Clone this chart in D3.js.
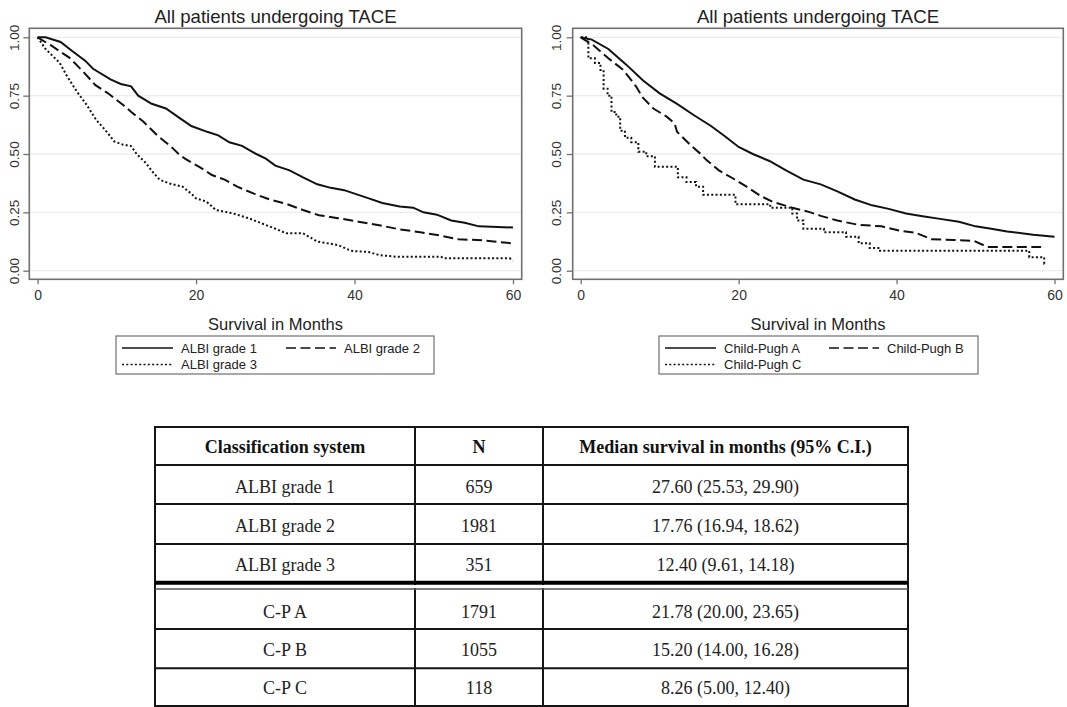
<!DOCTYPE html>
<html><head><meta charset="utf-8">
<script src="https://cdn.jsdelivr.net/npm/d3@7"></script>
<style>body{margin:0;background:#fff}svg{display:block}</style>
</head><body>
<svg id="c" width="1067" height="707"></svg>
<script>
// ---------- data ----------
const monthTicks = [0, 20, 40, 60];
const survTicks = [0, 0.25, 0.5, 0.75, 1];
const chartTitle = "All patients undergoing TACE";
const xTitle = "Survival in Months";

const albiLabels = ["ALBI grade 1", "ALBI grade 2", "ALBI grade 3"];
const cpLabels = ["Child-Pugh A", "Child-Pugh B", "Child-Pugh C"];

const albi1 = [[0,1],[1,1],[2.9,0.98],[4.4,0.94],[6,0.9],[7,0.865],[9.2,0.82],[10.5,0.8],[11.8,0.79],[12.7,0.75],[14.4,0.715],[16.2,0.695],[17.9,0.655],[19.4,0.62],[21.4,0.595],[22.8,0.58],[24.2,0.55],[25.8,0.535],[27.6,0.5],[28.8,0.48],[30,0.45],[31.8,0.43],[33.5,0.4],[35.3,0.37],[37,0.355],[38.7,0.345],[40,0.33],[41.8,0.31],[43.5,0.29],[45.7,0.275],[47.4,0.27],[48.7,0.25],[50.4,0.24],[52.2,0.215],[53.9,0.205],[55.7,0.19],[60,0.185]];
const albi2 = [[0,1],[1.7,0.965],[4,0.913],[5.7,0.855],[7.3,0.795],[8.9,0.76],[10.8,0.71],[12,0.675],[13.3,0.64],[15.1,0.58],[16.9,0.53],[17.8,0.5],[18.6,0.48],[20.4,0.445],[22,0.41],[23.6,0.39],[25.2,0.36],[27.3,0.33],[29.3,0.305],[31.5,0.285],[33.5,0.26],[35.5,0.238],[37.9,0.225],[40.5,0.21],[43.1,0.195],[45.7,0.177],[48.3,0.165],[50.9,0.15],[53.1,0.135],[56.1,0.13],[60,0.117]];
const albi3 = [[0,1],[1,0.95],[1.6,0.93],[2.8,0.89],[3.6,0.84],[4.9,0.77],[6.2,0.71],[7.4,0.646],[8.7,0.596],[9.7,0.553],[10.8,0.54],[11.8,0.534],[12.5,0.5],[13.7,0.46],[14.5,0.424],[15.4,0.39],[16.6,0.374],[18.3,0.36],[19.4,0.33],[20,0.31],[21.3,0.296],[22.5,0.26],[24.6,0.246],[26.7,0.224],[28.8,0.196],[30,0.18],[31.4,0.16],[33.5,0.16],[35.3,0.125],[37.9,0.11],[39.6,0.085],[41.8,0.08],[43.1,0.067],[45.2,0.06],[50.9,0.06],[51.3,0.053],[59.6,0.053],[60,0.043]];

const cpA = [[0,1],[1.4,0.99],[3.5,0.95],[5.7,0.885],[7.9,0.815],[10,0.76],[12.2,0.715],[14.4,0.665],[16.5,0.62],[18.3,0.575],[20,0.53],[21.8,0.5],[23.9,0.47],[26,0.43],[28.2,0.39],[30.4,0.37],[32.5,0.34],[34.7,0.305],[36.9,0.28],[39,0.265],[41.2,0.245],[43.3,0.233],[45.5,0.222],[47.9,0.21],[50,0.19],[52,0.18],[54,0.168],[57.3,0.154],[60,0.145]];
const cpB = [[0,1],[1.6,0.966],[3.5,0.91],[5.4,0.86],[7,0.79],[7.9,0.74],[9.2,0.695],[10.9,0.66],[11.9,0.63],[12.2,0.595],[14,0.535],[15.2,0.5],[15.9,0.475],[17.5,0.43],[19.3,0.395],[21,0.36],[22.8,0.32],[24.3,0.295],[26.8,0.27],[28.9,0.252],[30.4,0.235],[32.5,0.215],[35.1,0.197],[38.1,0.19],[40.3,0.172],[42.4,0.163],[44.4,0.135],[47.2,0.132],[49.8,0.128],[51.5,0.102],[58.3,0.102]];
// step function (value after each time)
const cpC = [[0,1],[0.97,0.91],[1.8,0.89],[2.5,0.86],[2.9,0.78],[3.4,0.75],[3.9,0.68],[4.5,0.66],[5.0,0.6],[5.6,0.57],[6.4,0.55],[7.3,0.51],[8.3,0.49],[9.4,0.445],[12.3,0.4],[13.4,0.38],[14.6,0.36],[15.5,0.325],[19.6,0.285],[24.0,0.27],[26.8,0.245],[27.4,0.215],[28.2,0.18],[30.8,0.165],[33.6,0.145],[35.2,0.118],[36.6,0.097],[37.7,0.086],[56.8,0.058],[58.7,0.03],[59.0,0.03]];

const tableHeader = ["Classification system", "N", "Median survival in months (95% C.I.)"];
const tableSystem = ["ALBI grade 1", "ALBI grade 2", "ALBI grade 3", "C-P A", "C-P B", "C-P C"];
const tableN = ["659", "1981", "351", "1791", "1055", "118"];
const tableMedian = ["27.60 (25.53, 29.90)", "17.76 (16.94, 18.62)", "12.40 (9.61, 14.18)",
                     "21.78 (20.00, 23.65)", "15.20 (14.00, 16.28)", "8.26 (5.00, 12.40)"];

// ---------- drawing ----------
const svg = d3.select("#c");
const SANS = "'Liberation Sans', Arial, sans-serif";
const SERIF = "'Liberation Serif', 'Times New Roman', serif";
const styles = [
  {dash: null, curve: d3.curveLinear},
  {dash: "10,4.5", curve: d3.curveLinear},
  {dash: "2,2.3", curve: d3.curveLinear}
];

function panel(cfg) {
  const g = svg.append("g");
  const x = d3.scaleLinear().domain([0, 60]).range([cfg.x0, cfg.x60]);
  const y = d3.scaleLinear().domain([0, 1]).range([270.7, 37.3]);
  const [fl, ft, fr, fb] = cfg.frame;

  // gridlines
  g.selectAll("line.grid").data(survTicks).join("line")
    .attr("x1", fl + 1).attr("x2", fr - 1)
    .attr("y1", d => y(d)).attr("y2", d => y(d))
    .attr("stroke", "#ececec").attr("stroke-width", 1.3);

  // frame
  g.append("rect").attr("x", fl).attr("y", ft).attr("width", fr - fl).attr("height", fb - ft)
    .attr("fill", "none").attr("stroke", "#707070").attr("stroke-width", 1.6);

  // x axis
  const xa = g.append("g").attr("transform", `translate(0,${fb})`)
    .call(d3.axisBottom(x).tickValues(monthTicks).tickSize(5).tickSizeOuter(0).tickPadding(5.8));
  xa.select(".domain").remove();
  xa.selectAll("line").attr("stroke", "#707070").attr("stroke-width", 1.3);
  xa.selectAll("text").attr("font-family", SANS).attr("font-size", 14).attr("fill", "#333");

  // y axis
  const ya = g.append("g").attr("transform", `translate(${fl},0)`)
    .call(d3.axisLeft(y).tickValues(survTicks).tickSize(6).tickSizeOuter(0).tickFormat(d3.format(".2f")));
  ya.select(".domain").remove();
  ya.selectAll("line").attr("stroke", "#707070").attr("stroke-width", 1.3);
  ya.selectAll("text").attr("font-family", SANS).attr("font-size", 13.5).attr("fill", "#333")
    .attr("transform", "rotate(-90)").attr("x", 0).attr("y", -cfg.labOff).attr("dy", 0)
    .attr("text-anchor", "middle");

  // title
  g.append("text").attr("x", (fl + fr) / 2).attr("y", 23).attr("text-anchor", "middle")
    .attr("font-family", SANS).attr("font-size", 18.6).attr("fill", "#222").text(chartTitle);
  g.append("text").attr("x", (fl + fr) / 2).attr("y", 330).attr("text-anchor", "middle")
    .attr("font-family", SANS).attr("font-size", 16.5).attr("fill", "#222").text(xTitle);

  // curves
  cfg.series.forEach((s, i) => {
    const line = d3.line().x(d => x(d[0])).y(d => y(d[1]))
      .curve(cfg.stepIdx === i ? d3.curveStepAfter : styles[i].curve);
    g.append("path").datum(s).attr("d", line).attr("fill", "none")
      .attr("stroke", "#111").attr("stroke-width", 2)
      .attr("stroke-dasharray", styles[i].dash);
  });

  // legend
  const [ll, lt, lr, lb] = cfg.legend;
  g.append("rect").attr("x", ll).attr("y", lt).attr("width", lr - ll).attr("height", lb - lt)
    .attr("fill", "#fff").attr("stroke", "#707070").attr("stroke-width", 1.2);
  const pos = [[ll + 6, ll + 57, ll + 65, 352.5], [ll + 170, ll + 220, ll + 228, 352.5], [ll + 6, ll + 57, ll + 65, 369]];
  cfg.labels.forEach((lab, i) => {
    const [a, b, t, by] = pos[i];
    g.append("line").attr("x1", a).attr("x2", b).attr("y1", by - 4.5).attr("y2", by - 4.5)
      .attr("stroke", "#111").attr("stroke-width", 1.6).attr("stroke-dasharray", styles[i].dash);
    g.append("text").attr("x", t).attr("y", by).attr("font-family", SANS).attr("font-size", 13)
      .attr("fill", "#222").text(lab);
  });
}

panel({frame: [29.3, 28.3, 521.7, 279.3], x0: 37.6, x60: 513, labOff: 10.8,
       series: [albi1, albi2, albi3], labels: albiLabels, stepIdx: -1, legend: [116, 336, 434, 374]});
panel({frame: [572.7, 28.3, 1063.3, 279.3], x0: 580.7, x60: 1054.5, labOff: 11.5,
       series: [cpA, cpB, cpC], labels: cpLabels, stepIdx: 2, legend: [659, 336, 978, 374]});

// ---------- table ----------
const T = svg.append("g");
const colX = [155, 415, 543, 908];
const colC = [285, 479, 725.5];
const rowLines = [465, 504, 544, 629, 668.3];
const tTop = 427, tBot = 706;
const lineCol = "#151515";
T.append("rect").attr("x", colX[0]).attr("y", tTop).attr("width", colX[3] - colX[0]).attr("height", tBot - tTop)
  .attr("fill", "none").attr("stroke", lineCol).attr("stroke-width", 2);
[colX[1], colX[2]].forEach(cx => T.append("line").attr("x1", cx).attr("x2", cx).attr("y1", tTop).attr("y2", tBot)
  .attr("stroke", lineCol).attr("stroke-width", 2));
rowLines.forEach(ry => T.append("line").attr("x1", colX[0]).attr("x2", colX[3]).attr("y1", ry).attr("y2", ry)
  .attr("stroke", lineCol).attr("stroke-width", 2));
T.append("line").attr("x1", colX[0]).attr("x2", colX[3]).attr("y1", 582.8).attr("y2", 582.8)
  .attr("stroke", "#000").attr("stroke-width", 4);
T.append("rect").attr("x", colX[0] + 1).attr("y", 585).attr("width", colX[3] - colX[0] - 2).attr("height", 3)
  .attr("fill", "#fff");
T.append("line").attr("x1", colX[0]).attr("x2", colX[3]).attr("y1", 589).attr("y2", 589)
  .attr("stroke", "#555").attr("stroke-width", 1.5);

tableHeader.forEach((h, i) => T.append("text").attr("x", colC[i]).attr("y", 452.5).attr("text-anchor", "middle")
  .attr("font-family", SERIF).attr("font-weight", "bold").attr("font-size", 18).attr("fill", "#111").text(h));
const rowBase = [492.7, 532, 571, 618, 656, 694];
tableSystem.forEach((s, r) => {
  [s, tableN[r], tableMedian[r]].forEach((v, i) => T.append("text").attr("x", colC[i]).attr("y", rowBase[r])
    .attr("text-anchor", "middle").attr("font-family", SERIF).attr("font-size", 18).attr("fill", "#222").text(v));
});
</script>
</body></html>
